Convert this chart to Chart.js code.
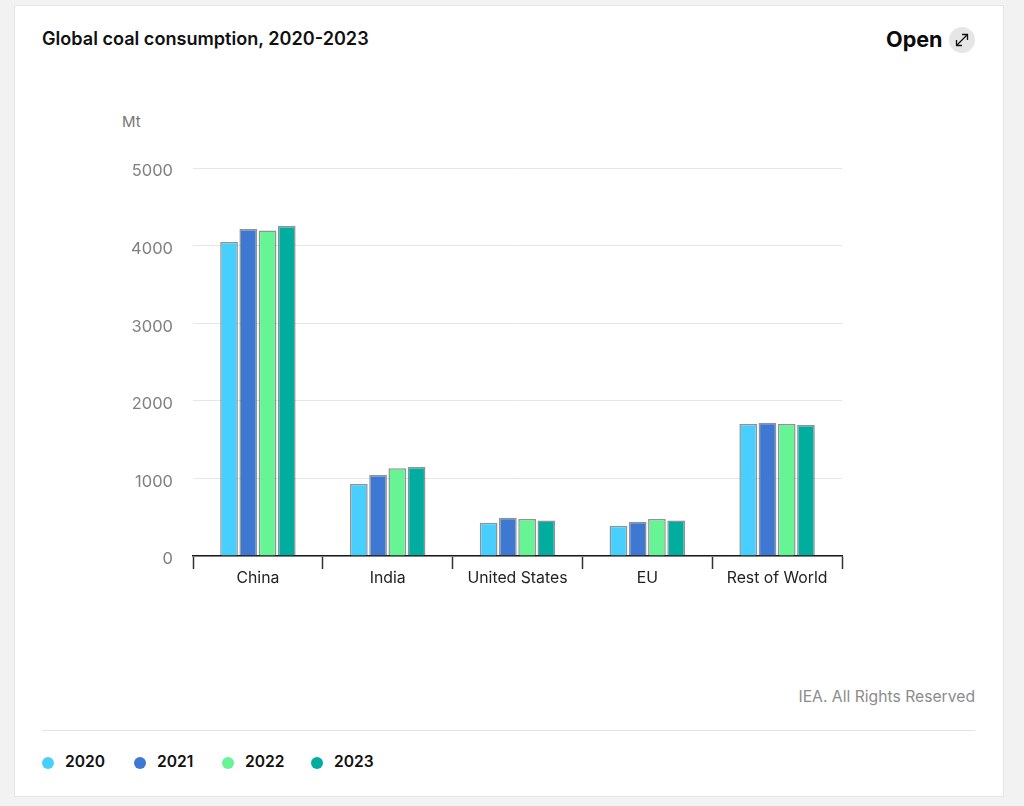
<!DOCTYPE html>
<html>
<head>
<meta charset="utf-8">
<script src="https://cdn.jsdelivr.net/npm/chart.js@4/dist/chart.umd.min.js"></script>
<style>
    html, body { margin: 0; padding: 0; background: #f2f2f2; font-family: Inter, sans-serif; }
    body { width: 1024px; height: 806px; position: relative; overflow: hidden; }
    .card { position: absolute; left: 14px; top: 5px; width: 988px; height: 790px; background: #fff; border: 1px solid #e6e6e6; }
    .abs { position: absolute; white-space: nowrap; }
    #title { left: 42px; top: 28px; font-size: 18.1px; line-height: 21px; font-weight: 600; color: #111; }
    #open { left: 886px; top: 26px; font-size: 21.6px; line-height: 27px; font-weight: 700; color: #0b0b0b; }
    #icon { left: 949px; top: 27px; width: 26px; height: 26px; border-radius: 50%; background: #e6e6e6; }
    #unit { left: 122px; top: 113px; font-size: 15px; line-height: 18px; color: #777; }
    #credit { right: 49px; top: 688px; font-size: 15.7px; line-height: 18px; color: #8c8c8c; }
    #rule { left: 42px; top: 730px; width: 933px; height: 1px; background: #e3e3e3; }
    #chartBox { left: 100px; top: 140px; width: 760px; height: 460px; }
    .dot { position: absolute; top: 757px; width: 12px; height: 12px; border-radius: 50%; }
    .key { position: absolute; top: 752px; font-size: 15.6px; line-height: 20px; font-weight: 600; color: #111; }
</style>
</head>
<body>
<div class="card"></div>
<div class="abs" id="title">Global coal consumption, 2020-2023</div>
<div class="abs" id="open">Open</div>
<div class="abs" id="icon">
    <svg width="26" height="26" viewBox="0 0 26 26" fill="none" stroke="#111" stroke-width="1.3">
        <path d="M7.5 18.5 L18.5 7.5 M13 7.5 H18.5 V13 M7.5 13 V18.5 H13"/>
    </svg>
</div>
<div class="abs" id="unit">Mt</div>
<div class="abs" id="chartBox"><canvas id="coalChart" width="760" height="460"></canvas></div>
<div class="abs" id="credit">IEA. All Rights Reserved</div>
<div class="abs" id="rule"></div>
<div id="legend"></div>

<script>
    const categories = ["China", "India", "United States", "EU", "Rest of World"];
    const years = ["2020", "2021", "2022", "2023"];
    const yearColors = ["#48cfff", "#3e78d2", "#66f495", "#00ad9f"];

    const values2020 = [4046, 928, 429, 390, 1701];
    const values2021 = [4214, 1044, 494, 442, 1718];
    const values2022 = [4195, 1130, 477, 477, 1701];
    const values2023 = [4253, 1147, 457, 457, 1688];
    const seriesValues = [values2020, values2021, values2022, values2023];

    const yTicks = [0, 1000, 2000, 3000, 4000, 5000];

    // Legend sits under the rule, outside the plot
    const legendDotX = [42, 134, 222, 311];
    const legendEl = document.getElementById("legend");
    years.forEach((year, i) => {
        const dot = document.createElement("div");
        dot.className = "dot";
        dot.style.left = legendDotX[i] + "px";
        dot.style.background = yearColors[i];
        legendEl.appendChild(dot);

        const key = document.createElement("div");
        key.className = "key";
        key.style.left = legendDotX[i] + 23 + "px";
        key.textContent = year;
        legendEl.appendChild(key);
    });

    new Chart(document.getElementById("coalChart"), {
        type: "bar",
        data: {
            labels: categories,
            datasets: years.map((year, i) => ({
                label: year,
                data: seriesValues[i],
                backgroundColor: yearColors[i],
                borderColor: "rgba(50, 60, 60, 0.55)",
                borderWidth: { top: 1.5, left: 1.5, right: 1.5, bottom: 0 },
                categoryPercentage: 0.593,
                barPercentage: 0.92,
            })),
        },
        options: {
            responsive: false,
            animation: false,
            layout: { padding: { top: 28, right: 18, left: 0, bottom: 0 } },
            plugins: {
                legend: { display: false },
                tooltip: { enabled: false },
            },
            scales: {
                x: {
                    afterFit: (scale) => { scale.height = 44; },
                    border: { color: "#1a1a1a", width: 1.5 },
                    grid: {
                        drawOnChartArea: false,
                        drawTicks: true,
                        tickLength: 13,
                        tickColor: "#333",
                        tickWidth: 1.5,
                    },
                    ticks: {
                        color: "#222",
                        padding: 0,
                        maxRotation: 0,
                        font: { family: "Inter", size: 15.8 },
                    },
                },
                y: {
                    min: 0,
                    max: 5000,
                    afterFit: (scale) => { scale.width = 93; },
                    afterBuildTicks: (scale) => { scale.ticks = yTicks.map((value) => ({ value })); },
                    border: { display: false },
                    grid: { color: "#e6e6e6", lineWidth: 1, drawTicks: false },
                    ticks: {
                        color: "#808080",
                        padding: 20,
                        // labels sit a little under their gridline, empty first line pushes them down
                        font: { family: "Inter", size: 16.5, lineHeight: "7px" },
                        callback: (value) => ["", String(value)],
                    },
                },
            },
        },
    });
</script>
</body>
</html>
